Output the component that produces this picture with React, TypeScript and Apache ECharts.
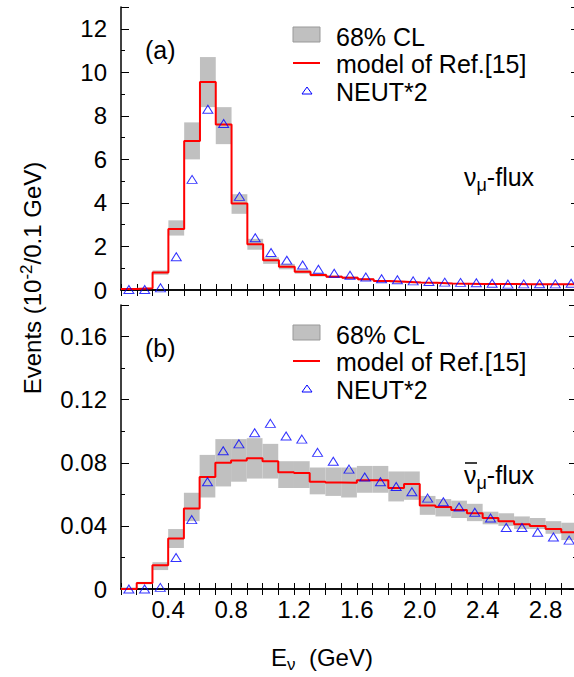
import React, { useEffect, useRef } from "react";
import * as echarts from "echarts";

const binEdges = [0.1,0.2,0.3,0.4,0.5,0.6,0.7,0.8,0.9,1.0,1.1,1.2,1.3,1.4,1.5,1.6,1.7,1.8,1.9,2.0,2.1,2.2,2.3,2.4,2.5,2.6,2.7,2.8,2.9,3.0];
const binCenters = [0.15,0.25,0.35,0.45,0.55,0.65,0.75,0.85,0.95,1.05,1.15,1.25,1.35,1.45,1.55,1.65,1.75,1.85,1.95,2.05,2.15,2.25,2.35,2.45,2.55,2.65,2.75,2.85,2.95];

const modelA = [0.05,0.08,0.8,2.8,6.85,9.55,7.6,3.97,2.1,1.37,1.07,0.84,0.69,0.61,0.56,0.49,0.41,0.38,0.35,0.33,0.3,0.29,0.28,0.28,0.27,0.26,0.26,0.26,0.26];
const bandLoA = [0.03,0.06,0.7,2.5,6.0,8.4,6.7,3.5,1.85,1.2,0.95,0.75,0.62,0.55,0.5,0.44,0.37,0.34,0.31,0.29,0.27,0.27,0.26,0.26,0.24,0.24,0.23,0.23,0.23];
const bandHiA = [0.07,0.1,0.9,3.2,7.7,10.7,8.4,4.4,2.35,1.5,1.2,0.93,0.76,0.67,0.62,0.54,0.45,0.42,0.39,0.36,0.33,0.32,0.31,0.31,0.29,0.29,0.29,0.29,0.29];
const neutA = [0.02,0.02,0.1,1.53,5.08,8.3,7.65,4.3,2.4,1.72,1.37,1.15,0.95,0.77,0.68,0.6,0.52,0.47,0.42,0.39,0.36,0.35,0.33,0.31,0.27,0.28,0.29,0.28,0.31];

const modelB = [0.0,0.0038,0.015,0.032,0.051,0.071,0.08,0.0815,0.0828,0.081,0.074,0.0735,0.068,0.0675,0.0673,0.069,0.069,0.064,0.0665,0.053,0.052,0.05,0.048,0.045,0.043,0.041,0.04,0.038,0.036];
const bandLoB = [0.0,0.003,0.012,0.026,0.043,0.058,0.065,0.068,0.07,0.07,0.064,0.064,0.06,0.059,0.058,0.061,0.061,0.0555,0.0565,0.047,0.046,0.045,0.043,0.041,0.04,0.038,0.038,0.035,0.031];
const bandHiB = [0.001,0.0045,0.017,0.038,0.061,0.085,0.095,0.095,0.0956,0.092,0.081,0.081,0.077,0.077,0.077,0.078,0.078,0.0745,0.0745,0.059,0.057,0.056,0.054,0.049,0.048,0.046,0.045,0.043,0.042];
const neutB = [0.0,0.0,0.001,0.02,0.044,0.068,0.0876,0.092,0.099,0.105,0.097,0.095,0.0866,0.081,0.076,0.071,0.068,0.065,0.0616,0.0576,0.0553,0.052,0.0486,0.045,0.039,0.039,0.036,0.033,0.031];

const FONT = "Liberation Sans";

function stepData(vals: number[]) {
  const d = vals.map((v, i) => [binEdges[i], v]);
  d.push([binEdges[binEdges.length - 1], vals[vals.length - 1]]);
  return d;
}
function bandData(lo: number[], hi: number[]) {
  return lo.map((l, i) => [binEdges[i], binEdges[i + 1], l, hi[i]]);
}

export default function App() {
  const ref = useRef<HTMLDivElement>(null);
  useEffect(() => {
    document.body.style.margin = "0";
    document.body.style.overflow = "hidden";
    const chart = echarts.init(ref.current!, null, { renderer: "svg" });
    const grids = [
      { left: 121, right: 1, top: 7, height: 283 },
      { left: 121, right: 1, top: 305, height: 284 },
    ];
    const axisLine = { show: true, lineStyle: { color: "#000", width: 1.5 } };
    const xAxes: any[] = [];
    const yAxes: any[] = [];
    [0, 1].forEach((g) => {
      ["bottom", "top"].forEach((pos) => {
        xAxes.push({
          type: "value", gridIndex: g, position: pos, min: 0.1, max: 3.0, interval: 0.1,
          axisLine, splitLine: { show: false },
          axisTick: { inside: true, length: 6, lineStyle: { color: "#000" } },
          minorTick: { show: false },
          axisLabel: {
            show: g === 1 && pos === "bottom", fontFamily: FONT, fontSize: 24, color: "#000", margin: 8,
            formatter: (v: number) => {
              const r = Math.round(v * 10);
              return r % 4 === 0 && r >= 4 && r <= 28 ? (r / 10).toFixed(1) : "";
            },
          },
        });
      });
      ["left", "right"].forEach((pos) => {
        yAxes.push({
          type: "value", gridIndex: g, position: pos,
          min: 0, max: g === 0 ? 13 : 0.18, interval: g === 0 ? 2 : 0.04,
          axisLine, splitLine: { show: false },
          axisTick: { inside: true, length: 8, lineStyle: { color: "#000" } },
          minorTick: { show: true, splitNumber: 2, length: 4, lineStyle: { color: "#000" } },
          axisLabel: {
            show: pos === "left", fontFamily: FONT, fontSize: 24, color: "#000", margin: 14,
            formatter: (v: number) => (g === 0 ? (v > 12 ? "" : String(v)) : v > 0.17 ? "" : v === 0 ? "0" : v.toFixed(2)),
          },
        });
      });
    });
    const band = (lo: number[], hi: number[], g: number) => ({
      type: "custom", xAxisIndex: g * 2, yAxisIndex: g * 2, data: bandData(lo, hi), z: 1,
      renderItem: (_p: any, api: any) => {
        const a = api.coord([api.value(0), api.value(3)]);
        const b = api.coord([api.value(1), api.value(2)]);
        return { type: "rect", shape: { x: a[0], y: a[1], width: b[0] - a[0], height: b[1] - a[1] }, style: { fill: "#c0c0c0" } };
      },
    });
    const step = (v: number[], g: number) => ({
      type: "line", step: "end", xAxisIndex: g * 2, yAxisIndex: g * 2, data: stepData(v), symbol: "none", z: 3,
      lineStyle: { color: "#ff0000", width: 2 },
    });
    const neut = (v: number[], g: number) => ({
      type: "scatter", xAxisIndex: g * 2, yAxisIndex: g * 2, data: binCenters.map((x, i) => [x, v[i]]),
      symbol: "triangle", symbolSize: [10, 8], z: 4,
      itemStyle: { color: "rgba(0,0,0,0)", borderColor: "#0000ff", borderWidth: 1 },
    });
    const lt = (x: number, y: number, text: string) => ({
      type: "text", style: { x, y, text, font: `25px ${FONT}`, lineHeight: 24, fill: "#000", verticalAlign: "middle" },
    });
    const legend = (y0: number) => [
      { type: "rect", shape: { x: 293, y: y0 + 20, width: 27, height: 15 }, style: { fill: "#c0c0c0", stroke: "#999", lineWidth: 1 } },
      lt(336, y0 + 30, "68% CL"),
      { type: "line", shape: { x1: 293, y1: y0 + 56, x2: 320, y2: y0 + 56 }, style: { stroke: "#ff0000", lineWidth: 2 } },
      lt(336, y0 + 57, "model of Ref.[15]"),
      { type: "polygon", shape: { points: [[307, y0 + 80], [302, y0 + 87], [312, y0 + 87]] }, style: { fill: "none", stroke: "#0000ff", lineWidth: 1 } },
      lt(336, y0 + 85, "NEUT*2"),
    ];
    const flux = (y: number) => ({
      type: "text", style: { x: 464, y, text: "{n|ν}{s|μ}{n|-flux}", fill: "#000", verticalAlign: "middle",
        rich: { n: { font: `25px ${FONT}` }, s: { font: `18px ${FONT}`, padding: [16, 0, 0, 0] } } },
    });
    chart.setOption({
      animation: false,
      grid: grids,
      xAxis: xAxes,
      yAxis: yAxes,
      series: [band(bandLoA, bandHiA, 0), step(modelA, 0), neut(neutA, 0), band(bandLoB, bandHiB, 1), step(modelB, 1), neut(neutB, 1)],
      graphic: [
        ...legend(7),
        ...legend(305),
        { type: "text", style: { x: 145, y: 50, text: "(a)", font: `25px ${FONT}`, fill: "#000", verticalAlign: "middle" } },
        { type: "text", style: { x: 145, y: 348, text: "(b)", font: `25px ${FONT}`, fill: "#000", verticalAlign: "middle" } },
        flux(177),
        flux(475),
        { type: "line", shape: { x1: 465, y1: 463, x2: 477, y2: 463 }, style: { stroke: "#000", lineWidth: 1.5 } },
        { type: "text", rotation: Math.PI / 2, x: 32, y: 278, style: { x: 0, y: 0, text: "{n|Events (10}{s|-2}{n|/0.1 GeV)}", fill: "#000", align: "center", verticalAlign: "middle",
          rich: { n: { font: `24px ${FONT}` }, s: { font: `17px ${FONT}`, padding: [0, 0, 12, 0] } } } },
        { type: "text", style: { x: 322, y: 657, text: "{n|E}{s|ν}{n|  (GeV)}", fill: "#000", align: "center", verticalAlign: "middle",
          rich: { n: { font: `24px ${FONT}` }, s: { font: `17px ${FONT}`, padding: [14, 0, 0, 0] } } } },
      ],
    });
    return () => chart.dispose();
  }, []);
  return <div ref={ref} style={{ width: 580, height: 677, position: "absolute", left: 0, top: 0 }} />;
}
